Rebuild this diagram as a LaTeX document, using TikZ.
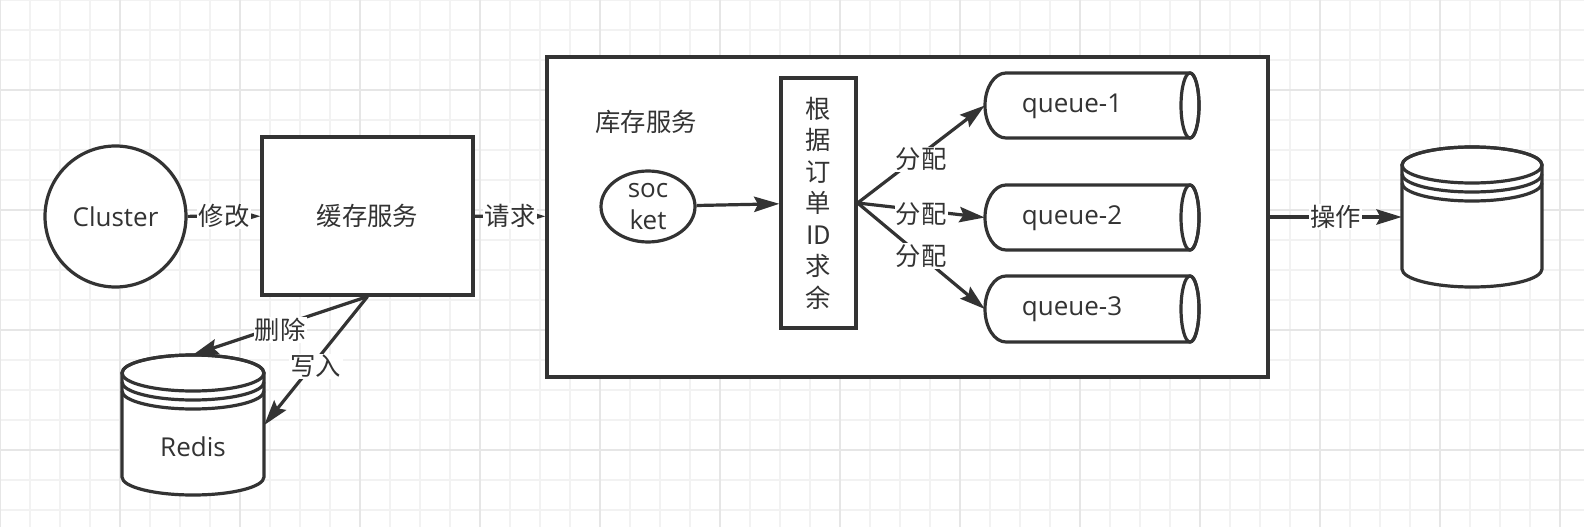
\documentclass[tikz,border=0pt]{standalone}
\usepackage{fontspec}
\setmainfont{Open Sans}
\newfontfamily\cjk{Noto Sans CJK SC}
\usetikzlibrary{arrows.meta,shapes.geometric}
\definecolor{ink}{HTML}{333333}
\definecolor{gmin}{HTML}{F2F2F2}
\definecolor{gmaj}{HTML}{E6E6E6}
\tikzset{
  shapeline/.style={draw=ink, line width=2.4pt},
  conn/.style={draw=ink, line width=2.4pt, -{Stealth[length=19pt,width=11.5pt,inset=3pt]}},
  lbl/.style={fill=white, text=ink, inner sep=1pt, font=\cjk\fontsize{19}{22}\selectfont},
  txt/.style={text=ink, inner sep=0pt, font=\fontsize{19.5}{24}\selectfont},
  cjktxt/.style={text=ink, inner sep=0pt, font=\cjk\fontsize{19}{23}\selectfont},
  holder/.style={draw=none, rectangle, inner sep=0pt},
  gridminor/.style={draw=gmin, line width=1.1pt},
  gridmajor/.style={draw=gmaj, line width=1.4pt}
}
% cylinder (datastore): cx cy rx halfheight
\newcommand{\dbshape}[4]{%
  \filldraw[shapeline, fill=white] (#1-#3,#2-#4+18) -- (#1-#3,#2+#4-18)
    arc[start angle=180, end angle=0, x radius=#3, y radius=18]
    -- (#1+#3,#2-#4+18)
    arc[start angle=0, end angle=-180, x radius=#3, y radius=18] -- cycle;
  \draw[shapeline] (#1,#2-#4+18) ellipse[x radius=#3, y radius=18];
  \draw[shapeline] (#1-#3,#2-#4+27) arc[start angle=180, end angle=0, x radius=#3, y radius=18];
  \draw[shapeline] (#1-#3,#2-#4+36) arc[start angle=180, end angle=0, x radius=#3, y radius=18];
}
% horizontal queue: cy halfheight
\newcommand{\qshape}[2]{%
  \filldraw[shapeline, fill=white] (1006,#1-#2)
    arc[start angle=270, end angle=90, x radius=21, y radius=#2]
    -- (1190,#1+#2)
    arc[start angle=90, end angle=-90, x radius=9, y radius=#2] -- cycle;
  \draw[shapeline] (1190,#1) ellipse[x radius=9, y radius=#2];
}
\begin{document}
\begin{tikzpicture}[x=0.75pt,y=-0.75pt]
\useasboundingbox (0,0) rectangle (1584,527);
\fill[white] (0,0) rectangle (1584,527);
% grid
\foreach \gx in {0,30,...,1560} \draw[gridminor] (\gx,0) -- (\gx,527);
\foreach \gy in {0,30,...,510} \draw[gridminor] (0,\gy) -- (1584,\gy);
\foreach \gx in {0,120,...,1560} \draw[gridmajor] (\gx,0) -- (\gx,527);
\foreach \gy in {90,210,330,450} \draw[gridmajor] (0,\gy) -- (1584,\gy);

% left part
\node[circle, shapeline, fill=white, minimum size=141*0.75pt, txt] (cluster) at (115.5,216.5) {Cluster};
\node[rectangle, shapeline, fill=white, minimum width=211*0.75pt, minimum height=158*0.75pt, cjktxt] (cache) at (367.5,216) {缓存服务};

\node[holder, minimum width=142*0.75pt, minimum height=140*0.75pt] (redis) at (193,425) {};
\dbshape{193}{425}{71}{70}
\node[txt] (redistxt) at (193,447) {Redis};

% main service box
\node[rectangle, shapeline, fill=white, minimum width=721*0.75pt, minimum height=320*0.75pt] (big) at (907.5,217) {};
\node[cjktxt] (kclbl) at (646,122) {库存服务};

\node[ellipse, shapeline, fill=white, minimum width=94*0.75pt, minimum height=71*0.75pt, inner sep=0pt] (socket) at (648,206.5) {};
\node[txt, align=center] (socktxt) at (socket.center) {soc\\ket};

\node[rectangle, shapeline, fill=white, minimum width=75*0.75pt, minimum height=250*0.75pt, text=ink, inner sep=0pt, align=center, font=\cjk\fontsize{19}{23.6}\selectfont] (rule) at (818.5,203) {根\\据\\订\\单\\ID\\求\\余};

% queues
\node[holder, minimum width=214*0.75pt, minimum height=65*0.75pt] (q1) at (1092,105.5) {};
\node[holder, minimum width=214*0.75pt, minimum height=65*0.75pt] (q2) at (1092,217.5) {};
\node[holder, minimum width=214*0.75pt, minimum height=66*0.75pt] (q3) at (1092,309) {};
\qshape{105.5}{32.5}
\qshape{217.5}{32.5}
\qshape{309}{33}
\node[txt] (q1t) at (1072,106) {queue-1};
\node[txt] (q2t) at (1072,218) {queue-2};
\node[txt] (q3t) at (1072,309.5) {queue-3};

% database
\node[holder, minimum width=140*0.75pt, minimum height=140*0.75pt] (db) at (1472,217) {};
\dbshape{1472}{217}{70}{70}

% connectors
\draw[conn] (cluster) -- (cache) node[lbl, midway] (l1) {修改};
\draw[conn] (cache) -- (big) node[lbl, midway] (l2) {请求};
\draw[conn] (socket) -- (rule);
\draw[conn] (rule.east) -- (q1.west) node[lbl, pos=0.5, yshift=-4pt] (l3) {分配};
\draw[conn] (rule.east) -- (q2.west) node[lbl, pos=0.5, yshift=-3pt] (l4) {分配};
\draw[conn] (rule.east) -- (q3.west) node[lbl, pos=0.5] (l5) {分配};
\draw[conn] (big) -- (db) node[lbl, midway] (l6) {操作};
\draw[conn] (cache.south) -- (redis.north) node[lbl, midway, yshift=-3pt] (l7) {删除};
\draw[conn] (cache.south) -- (redis.east) node[lbl, midway, yshift=-4pt] (l8) {写入};
\end{tikzpicture}
\end{document}
